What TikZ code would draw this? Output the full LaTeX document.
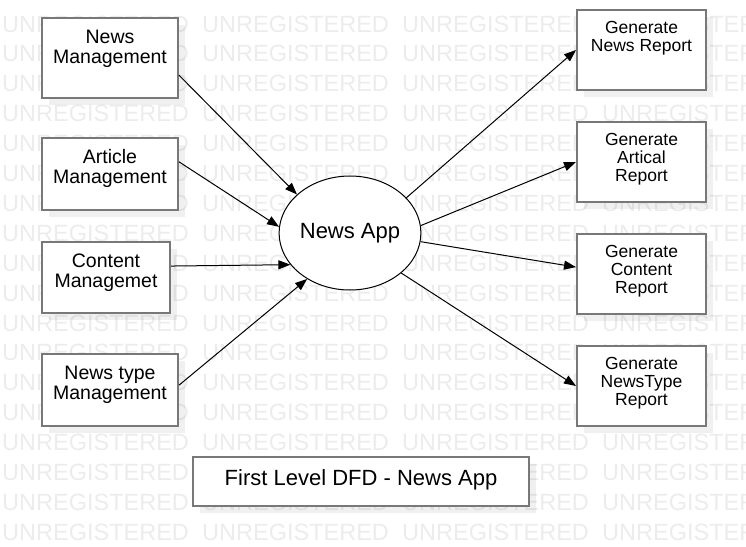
\documentclass[tikz,border=0pt]{standalone}
\usepackage{fontspec}
\setmainfont{Liberation Sans}
\usetikzlibrary{arrows.meta,shapes.geometric,shadows}
\definecolor{boxgray}{RGB}{120,120,120}
\begin{document}
\begin{tikzpicture}[x=1pt,y=-1pt,
  wm/.style={anchor=west,inner sep=0pt,text=black,text opacity=0.075,font=\fontsize{23.5}{24}\selectfont},
  procbox/.style={draw=boxgray,line width=2pt,fill=white,inner sep=0pt,
     drop shadow={shadow xshift=7pt,shadow yshift=-7pt,fill=black,opacity=0.06}},
  ltxt/.style={align=center,inner sep=0pt,font=\fontsize{19.5}{20}\selectfont},
  rtxt/.style={align=center,inner sep=0pt,font=\fontsize{17.5}{18}\selectfont},
  flow/.style={draw=black,line width=1pt,-{Triangle[length=12pt,width=9pt]}}]
\useasboundingbox[fill=white] (0,0) rectangle (746,546);
% watermark
\foreach \k in {0,...,17}{
  \foreach \xx in {2,202,402,602}{
    \node[wm] at (\xx,{24+29.9*\k}) {UNREGISTERED};
  }
}
% left boxes
\node[procbox,minimum width=136pt,minimum height=80pt] (nm) at (110,58) {};
\node[ltxt] (nmt) at (110,49) {News\\Management};
\node[procbox,minimum width=136pt,minimum height=72pt] (am) at (110,174) {};
\node[ltxt] (amt) at (110,168.5) {Article\\Management};
\node[procbox,minimum width=128pt,minimum height=71pt] (cm) at (106,277.5) {};
\node[ltxt] (cmt) at (106,272.5) {Content\\Managemet};
\node[procbox,minimum width=136pt,minimum height=72pt] (ntm) at (110,390) {};
\node[ltxt] (ntmt) at (110,384.5) {News type\\Management};
% right boxes
\node[procbox,minimum width=129pt,minimum height=80pt] (gnr) at (641.5,50) {};
\node[rtxt] (gnrt) at (641.5,38) {Generate\\News Report};
\node[procbox,minimum width=129pt,minimum height=80pt] (gar) at (641.5,162) {};
\node[rtxt] (gart) at (641.5,159) {Generate\\Artical\\Report};
\node[procbox,minimum width=129pt,minimum height=80pt] (gcr) at (641.5,274) {};
\node[rtxt] (gcrt) at (641.5,271) {Generate\\Content\\Report};
\node[procbox,minimum width=129pt,minimum height=80pt] (gtr) at (641.5,386) {};
\node[rtxt] (gtrt) at (641.5,383) {Generate\\NewsType\\Report};
% central process
\node[ellipse,draw=black,line width=1pt,fill=white,minimum width=134pt,minimum height=114pt,inner sep=0pt,
      font=\fontsize{22}{24}\selectfont] (app) at (350,233) {\raisebox{-2pt}{News App}};
% title
\node[procbox,minimum width=336pt,minimum height=49pt] (title) at (361,481.5) {};
\node[inner sep=0pt,font=\fontsize{22}{24}\selectfont] (titlet) at (361,480) {First Level DFD - News App};
% flows
\draw[flow] (nm.-14) -- (app.144.6);
\draw[flow] (am.10) -- (app.175);
\draw[flow] (cm.10.2) -- (app.208.8);
\draw[flow] (ntm.4.2) -- (app.227.4);
\draw[flow] (app.32.4) -- (gnr.west);
\draw[flow] (app.6.8) -- (gar.west);
\draw[flow] (app.-7.7) -- (gcr.174.7);
\draw[flow] (app.-38.5) -- (gtr.west);
\end{tikzpicture}
\end{document}
